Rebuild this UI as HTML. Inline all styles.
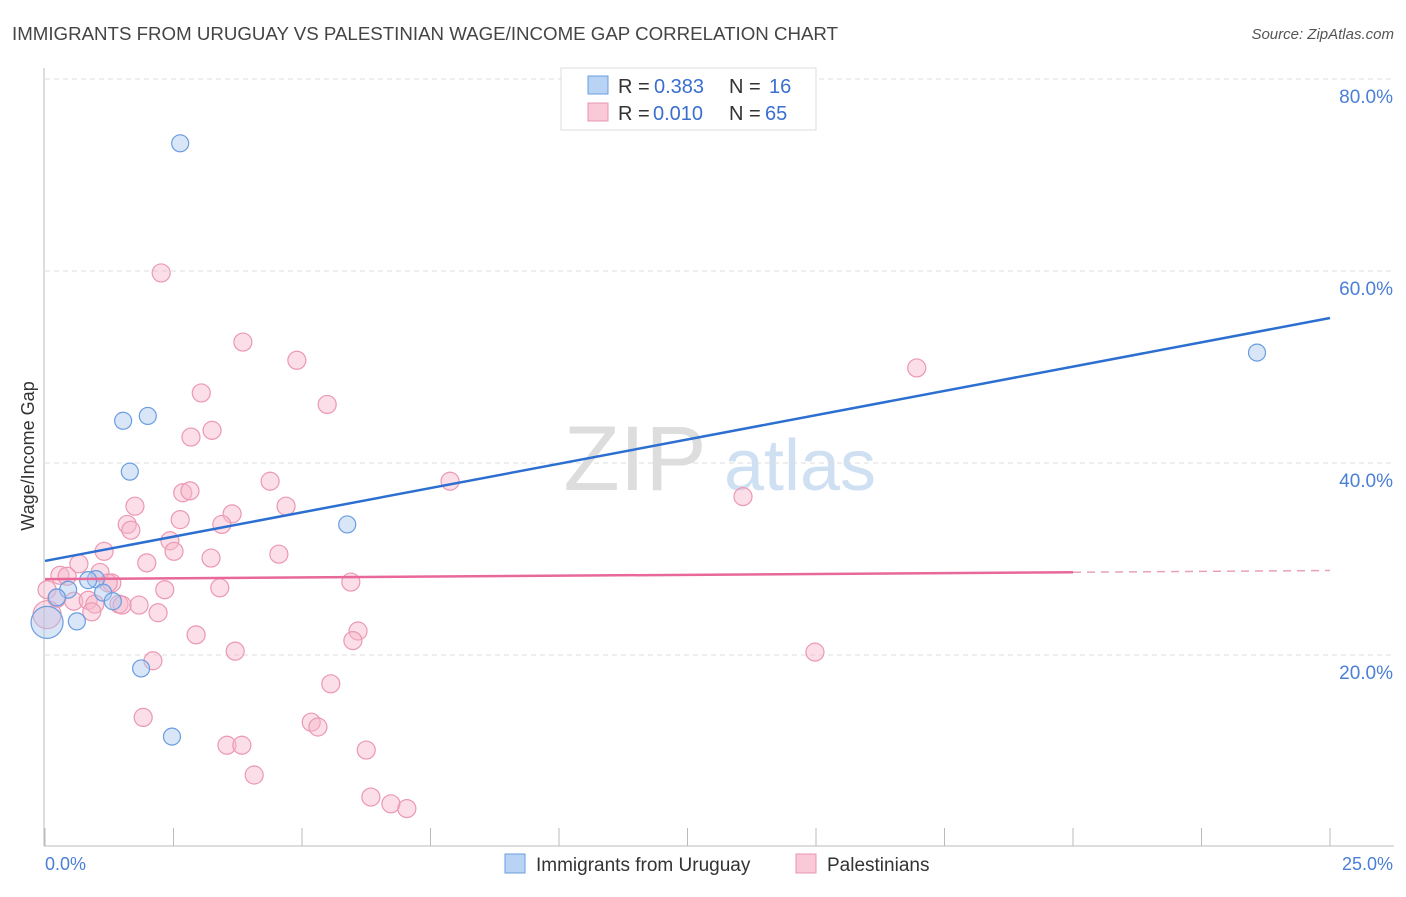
<!DOCTYPE html>
<html><head><meta charset="utf-8"><style>
body{margin:0;background:#fff;font-family:"Liberation Sans",sans-serif;}
svg text{font-family:"Liberation Sans",sans-serif;}
</style></head><body>
<svg width="1406" height="892" viewBox="0 0 1406 892">
<text x="12" y="40" font-size="18" fill="#444" textLength="826" lengthAdjust="spacingAndGlyphs">IMMIGRANTS FROM URUGUAY VS PALESTINIAN WAGE/INCOME GAP CORRELATION CHART</text>
<text x="1394" y="39" font-size="15" fill="#555" font-style="italic" text-anchor="end">Source: ZipAtlas.com</text>
<g>
<text x="635" y="490" font-size="92" fill="#ddd" font-family="Liberation Serif" text-anchor="middle">ZIP</text>
<text x="800" y="490" font-size="72" fill="#cfe0f3" text-anchor="middle">atlas</text>
</g>
<g id="grid"></g>
<line x1="44" y1="68" x2="44" y2="846" stroke="#bbb"/>
<line x1="44" y1="846" x2="1394" y2="846" stroke="#bbb"/>
<text transform="translate(34,456) rotate(-90)" font-size="18" fill="#333" text-anchor="middle">Wage/Income Gap</text>
<text x="45" y="870" font-size="18" fill="#4a7fd6">0.0%</text>
<text x="1393" y="870" font-size="18" fill="#4a7fd6" text-anchor="end">25.0%</text>
<g id="pts"></g>
<g id="lines"></g>
<g>
<rect x="561" y="68" width="255" height="62" fill="#fff" stroke="#ddd"/>
<rect x="588" y="76" width="20" height="18" fill="#b9d3f5" stroke="#6a9de0"/>
<rect x="588" y="103" width="20" height="18" fill="#f9c9d7" stroke="#e895b0"/>
<text x="618" y="93" font-size="20" fill="#333">R =</text>
<text x="654" y="93" font-size="20" fill="#3a6fd0">0.383</text>
<text x="729" y="93" font-size="20" fill="#333">N =</text>
<text x="769" y="93" font-size="20" fill="#3a6fd0">16</text>
<text x="618" y="120" font-size="20" fill="#333">R =</text>
<text x="653" y="120" font-size="20" fill="#3a6fd0">0.010</text>
<text x="729" y="120" font-size="20" fill="#333">N =</text>
<text x="765" y="120" font-size="20" fill="#3a6fd0">65</text>
</g>
<g>
<rect x="505" y="854" width="20" height="19" fill="#b9d3f5" stroke="#6a9de0"/>
<text x="536" y="871" font-size="19" fill="#333">Immigrants from Uruguay</text>
<rect x="796" y="854" width="20" height="19" fill="#f9c9d7" stroke="#e895b0"/>
<text x="827" y="871" font-size="19" fill="#333">Palestinians</text>
</g>
</svg>
<script>
const yTicks=[20,40,60,80];
const yTickLabels=["20.0%","40.0%","60.0%","80.0%"];
const xTicks=[0,2.5,5,7.5,10,12.5,15,17.5,20,22.5,25];
const blueX=[2.63,1.52,2.00,1.65,5.88,23.58,0.99,0.84,1.13,0.45,1.32,0.62,1.87,2.47,0.23,0.04];
const blueY=[73.3,44.4,44.9,39.1,33.6,51.5,27.9,27.8,26.5,26.8,25.6,23.5,18.6,11.5,26.0,23.4];
const pinkX=[2.26,3.85,4.90,3.04,5.49,2.84,3.25,16.96,4.38,7.88,13.58,2.68,2.82,1.75,4.69,3.64,1.60,2.63,3.44,1.67,1.15,2.43,2.51,3.23,4.55,1.98,0.66,0.29,0.43,1.07,1.30,1.23,5.95,2.33,3.40,0.04,0.23,0.56,0.84,0.97,1.44,1.50,1.83,0.91,2.20,6.09,5.99,2.94,3.70,2.10,14.98,5.56,1.91,5.18,5.31,3.54,3.83,6.25,4.07,6.34,6.73,7.04,0.04];
const pinkY=[59.8,52.6,50.7,47.3,46.1,42.7,43.4,49.9,38.1,38.1,36.5,36.9,37.1,35.5,35.5,34.7,33.6,34.1,33.6,33.0,30.8,31.9,30.8,30.1,30.5,29.6,29.5,28.3,28.2,28.6,27.5,27.5,27.6,26.8,27.0,26.8,25.9,25.6,25.7,25.3,25.3,25.2,25.2,24.5,24.4,22.5,21.5,22.1,20.4,19.4,20.3,17.0,13.5,13.0,12.5,10.6,10.6,10.1,7.5,5.2,4.5,4.0,24.2];
const blueLine=[29.8,55.1];
const pinkLine=[27.9,28.8];
const pinkSolidEnd=20;
const NS="http://www.w3.org/2000/svg";
const xs=v=>45+v*51.4, ys=v=>847-v*9.6;
function mk(t,a,p){const e=document.createElementNS(NS,t);for(const k in a)e.setAttribute(k,a[k]);p.appendChild(e);return e;}
const grid=document.getElementById('grid');
yTicks.forEach((t,i)=>{
 const l=mk('line',{x1:45,x2:1394,y1:ys(t),y2:ys(t),stroke:'#ddd','stroke-dasharray':'5,4'},grid);
 
 
 const tx=mk('text',{x:1393,y:ys(t)+24,'font-size':19,fill:'#4a7fd6','text-anchor':'end'},grid);
 tx.textContent=yTickLabels[i];
 
 
});
xTicks.forEach(t=>{
 const l=mk('line',{x1:xs(t),x2:xs(t),y1:828,y2:846,stroke:'#bbb'},grid);
 
 
});
const pts=document.getElementById('pts');
pinkX.forEach((x,i)=>{
 const r=(i===pinkX.length-1)?14:9;
 const c=mk('circle',{cx:xs(x),cy:ys(pinkY[i]),r:r,fill:'rgba(247,182,202,0.45)',stroke:'#eb98b3','stroke-width':1.2},pts);
 
 
});
blueX.forEach((x,i)=>{
 const r=(i===blueX.length-1)?16:8.5;
 const c=mk('circle',{cx:xs(x),cy:ys(blueY[i]),r:r,fill:'rgba(170,200,240,0.45)',stroke:'#6a9de0','stroke-width':1.2},pts);
 
 
});
const lines=document.getElementById('lines');
const b=mk('line',{x1:xs(0),y1:ys(blueLine[0]),x2:xs(25),y2:ys(blueLine[1]),stroke:'#2c6fd1','stroke-width':2.5},lines);


const pAt=x=>pinkLine[0]+(pinkLine[1]-pinkLine[0])*x/25;
const p=mk('line',{x1:xs(0),y1:ys(pAt(0)),x2:xs(pinkSolidEnd),y2:ys(pAt(pinkSolidEnd)),stroke:'#e8689a','stroke-width':2.5},lines);


const pd=mk('line',{x1:xs(pinkSolidEnd),y1:ys(pAt(pinkSolidEnd)),x2:xs(25),y2:ys(pAt(25)),stroke:'#e8a0bb','stroke-width':1.5,'stroke-dasharray':'8,6'},lines);


</script>
</body></html>
